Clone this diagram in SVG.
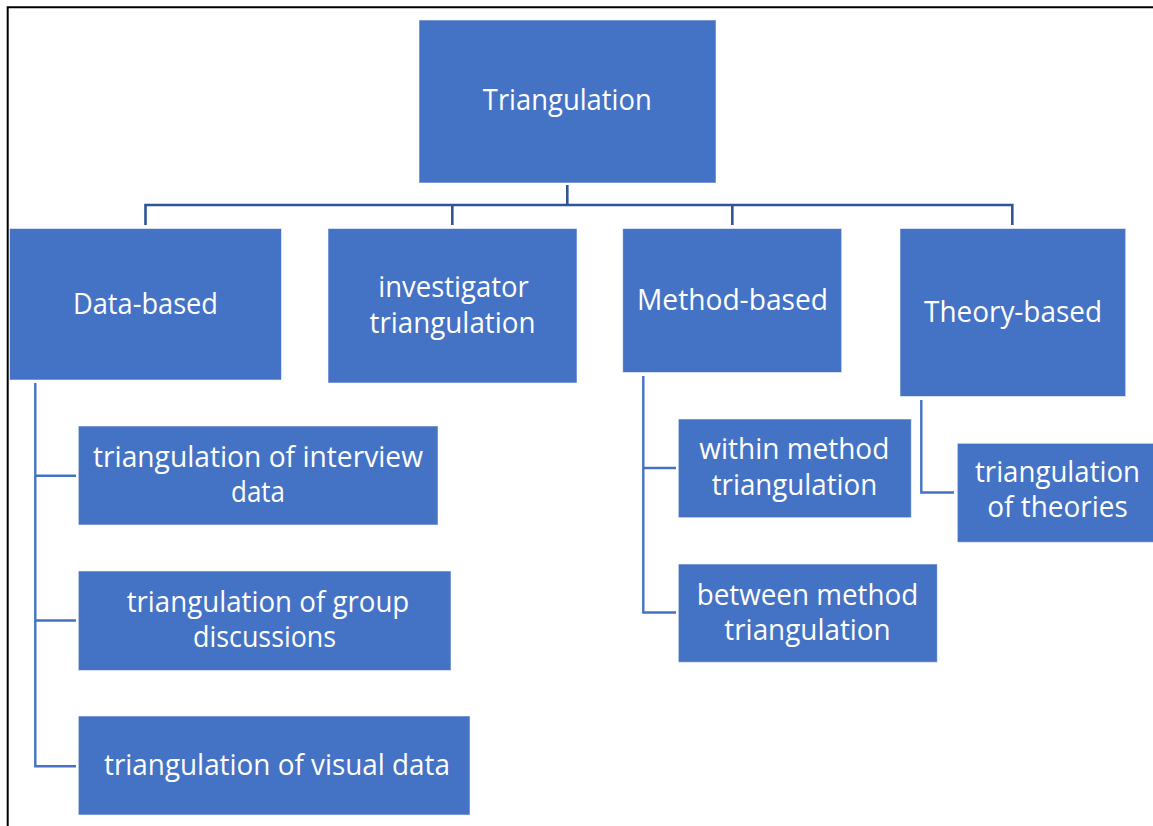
<svg xmlns="http://www.w3.org/2000/svg" width="1153" height="826" viewBox="0 0 1153 826">
<style>
.box{fill:#4472C4;stroke:#ffffff;stroke-opacity:0.55;stroke-width:1}
.t{font-family:"Open Sans","Noto Sans",sans-serif;font-size:28.5px;fill:#ffffff;text-anchor:middle}
.main{fill:none;stroke:#2F5597;stroke-width:2.6}
.sub{fill:none;stroke:#4472C4;stroke-width:2.4}
.frame{fill:none;stroke:#000000;stroke-width:2}
</style>
<rect x="0" y="0" width="1153" height="826" fill="#ffffff"/>
<path class="frame" d="M7.7,826 V7.3 H1153"/>
<g id="connectors">
<path class="main" d="M567.3,185 V205 M145.5,225 V205 H1012.3 V225 M452.3,205 V225 M732.3,205 V225"/>
<path class="sub" d="M35.3,383 V766.3 H76 M35.3,475.8 H76 M35.3,620.5 H76"/>
<path class="sub" d="M643.3,376 V612.5 H676 M643.3,468 H676"/>
<path class="sub" d="M921.3,400 V492.5 H954"/>
</g>
<g id="n-triangulation">
<rect class="box" x="419" y="20" width="297" height="163"/>
<text class="t" x="567.3" y="110" textLength="169" lengthAdjust="spacingAndGlyphs">Triangulation</text>
</g>
<g id="n-data">
<rect class="box" x="9.5" y="228.5" width="272" height="151.5"/>
<text class="t" x="145.5" y="313.5" textLength="145" lengthAdjust="spacingAndGlyphs">Data-based</text>
</g>
<g id="n-investigator">
<rect class="box" x="328" y="228.5" width="249" height="154.5"/>
<text class="t" x="453.5" y="297" textLength="150.5" lengthAdjust="spacingAndGlyphs">investigator</text>
<text class="t" x="452.5" y="332.5" textLength="166" lengthAdjust="spacingAndGlyphs">triangulation</text>
</g>
<g id="n-method">
<rect class="box" x="622.7" y="228.5" width="219" height="144"/>
<text class="t" x="732.5" y="309.5" textLength="191" lengthAdjust="spacingAndGlyphs">Method-based</text>
</g>
<g id="n-theory">
<rect class="box" x="900" y="228.5" width="225.7" height="168"/>
<text class="t" x="1013" y="321.5" textLength="178" lengthAdjust="spacingAndGlyphs">Theory-based</text>
</g>
<g id="n-interview">
<rect class="box" x="78.3" y="426" width="359.7" height="99"/>
<text class="t" x="258" y="466.7" textLength="330" lengthAdjust="spacingAndGlyphs">triangulation of interview</text>
<text class="t" x="258" y="501.7" textLength="54" lengthAdjust="spacingAndGlyphs">data</text>
</g>
<g id="n-group">
<rect class="box" x="78.3" y="571" width="372.7" height="99.5"/>
<text class="t" x="268" y="612.3" textLength="282.6" lengthAdjust="spacingAndGlyphs">triangulation of group</text>
<text class="t" x="264.6" y="647.3" textLength="143" lengthAdjust="spacingAndGlyphs">discussions</text>
</g>
<g id="n-visual">
<rect class="box" x="78.3" y="716" width="391.7" height="99"/>
<text class="t" x="277" y="775" textLength="346" lengthAdjust="spacingAndGlyphs">triangulation of visual data</text>
</g>
<g id="n-within">
<rect class="box" x="678.3" y="419" width="233" height="98.7"/>
<text class="t" x="794.3" y="459.3" textLength="190" lengthAdjust="spacingAndGlyphs">within method</text>
<text class="t" x="794.5" y="495" textLength="165.6" lengthAdjust="spacingAndGlyphs">triangulation</text>
</g>
<g id="n-between">
<rect class="box" x="678.3" y="564" width="259" height="98.3"/>
<text class="t" x="807.5" y="605" textLength="221.6" lengthAdjust="spacingAndGlyphs">between method</text>
<text class="t" x="807.5" y="640" textLength="166.4" lengthAdjust="spacingAndGlyphs">triangulation</text>
</g>
<g id="n-theories">
<rect class="box" x="957.3" y="443.3" width="205" height="99"/>
<text class="t" x="1057.5" y="481.7" textLength="165" lengthAdjust="spacingAndGlyphs">triangulation</text>
<text class="t" x="1057.5" y="517.3" textLength="140.4" lengthAdjust="spacingAndGlyphs">of theories</text>
</g>
</svg>
